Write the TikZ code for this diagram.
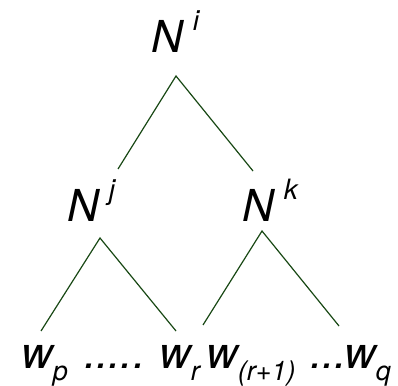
\documentclass[tikz,border=0pt]{standalone}
\usepackage{fontspec}
\setmainfont{TeX Gyre Heros}
\usetikzlibrary{positioning}
\definecolor{TreeGreen}{RGB}{24,72,20}
\newcommand\ntsup[1]{N\hspace{10pt}\raisebox{22pt}{\fontsize{28}{28}\selectfont #1}}
\newcommand\wsub[1]{w\raisebox{-12pt}{\fontsize{27}{27}\selectfont #1}}

\begin{document}
\begin{tikzpicture}[x=1pt,y=1pt]
    \tikzset{lbl/.style={inner sep=0pt,anchor=base west,font=\fontsize{44}{44}\selectfont\itshape},
      edge/.style={draw=TreeGreen,line width=1.2pt}}
    \useasboundingbox (0,0) rectangle (398,385);
    % nonterminals
    \node[lbl] (ni) at (151,332) {\ntsup{i}};
    \node[lbl] (nj) at (67,163) {\ntsup{j}};
    \node[lbl] (nk) at (242,163) {\ntsup{k}};
    % words
    \node[lbl] (wp) at (21,17) {\wsub{p}};
    \node[lbl] (d1) at (84,17) {.....};
    \node[lbl] (wr) at (159,17) {\wsub{r}};
    \node[lbl] (wr1) at (206,17) {\wsub{(r+1)}};
    \node[lbl] (d2) at (310,17) {...};
    \node[lbl] (wq) at (344,17) {\wsub{q}};
    % branches
    \draw[edge] ([shift={(51,53)}]nj.base west) -- ([shift={(25,-23)}]ni.base west) -- ([shift={(11,51)}]nk.base west);
    \draw[edge] ([shift={(20,37)}]wp.base west) -- ([shift={(33,-16)}]nj.base west) -- ([shift={(17,37)}]wr.base west);
    \draw[edge] ([shift={(-3,43)}]wr1.base west) -- ([shift={(20,-9)}]nk.base west) -- ([shift={(-5,42)}]wq.base west);
\end{tikzpicture}
\end{document}
